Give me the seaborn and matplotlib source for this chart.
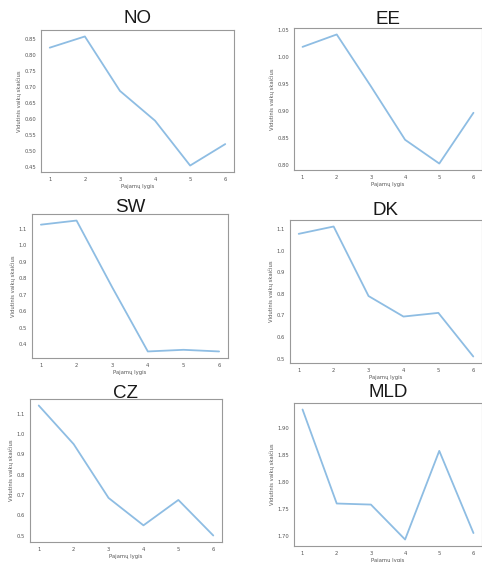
import pandas as pd
import matplotlib
matplotlib.use("Agg")
import matplotlib.pyplot as plt
import seaborn as sns

# Data
levels = [1, 2, 3, 4, 5, 6]
no_vals = [0.823, 0.858, 0.688, 0.595, 0.455, 0.522]
ee_vals = [1.018, 1.041, 0.945, 0.846, 0.802, 0.896]
sw_vals = [1.125, 1.150, 0.745, 0.355, 0.365, 0.355]
dk_vals = [1.078, 1.112, 0.790, 0.695, 0.712, 0.510]
cz_vals = [1.140, 0.950, 0.685, 0.550, 0.675, 0.500]
mld_vals = [1.935, 1.760, 1.758, 1.693, 1.858, 1.705]

countries = ["NO", "EE", "SW", "DK", "CZ", "MLD"]
series = [no_vals, ee_vals, sw_vals, dk_vals, cz_vals, mld_vals]

# yticks per panel
yticks = [
    [0.45, 0.50, 0.55, 0.60, 0.65, 0.70, 0.75, 0.80, 0.85],
    [0.80, 0.85, 0.90, 0.95, 1.00, 1.05],
    [0.4, 0.5, 0.6, 0.7, 0.8, 0.9, 1.0, 1.1],
    [0.5, 0.6, 0.7, 0.8, 0.9, 1.0, 1.1],
    [0.5, 0.6, 0.7, 0.8, 0.9, 1.0, 1.1],
    [1.70, 1.75, 1.80, 1.85, 1.90],
]
yfmt = ["%.2f", "%.2f", "%.1f", "%.1f", "%.1f", "%.2f"]

# axes boxes in pixels: left, top, right, bottom ; title pad in points
W, H = 482, 562
boxes = [
    (41, 30, 234, 172),
    (294, 28, 482, 170),
    (32, 214, 228, 358),
    (290, 220, 482, 363),
    (30, 399, 222, 542),
    (294, 403, 482, 546),
]
pads = [5, 3, 1.5, 3.5, 0.5, 4]

sns.set_style("white")
plt.rcParams['font.family'] = ['DejaVu Sans']
fig = plt.figure(figsize=(W / 100, H / 100), dpi=100)

for name, vals, box, yt, fm, pad in zip(countries, series, boxes, yticks, yfmt, pads):
    l, t, r, b = box
    ax = fig.add_axes([l / W, 1 - b / H, (r - l) / W, (b - t) / H])
    df = pd.DataFrame({"level": levels, "value": vals})
    sns.lineplot(data=df, x="level", y="value", ax=ax, color="#8ebde3", linewidth=1.3)
    ax.set_xticks(levels)
    ax.set_yticks(yt)
    ax.set_yticklabels([fm % v for v in yt])
    ax.tick_params(labelsize=3.8, length=2, width=0.5, pad=1.5, colors="#555555")
    ax.set_xlabel("Pajamų lygis", fontsize=3.8, labelpad=1.5, color="#555555")
    ax.set_ylabel("Vidutinis vaikų skaičius", fontsize=3.8, labelpad=2, color="#555555")
    for s in ax.spines.values():
        s.set_color("#999999")
        s.set_linewidth(0.8)
    ax.set_title(name, fontsize=13.5, family="Liberation Sans", color="#1a1a1a", pad=pad)

fig.savefig("out.png", dpi=100)
